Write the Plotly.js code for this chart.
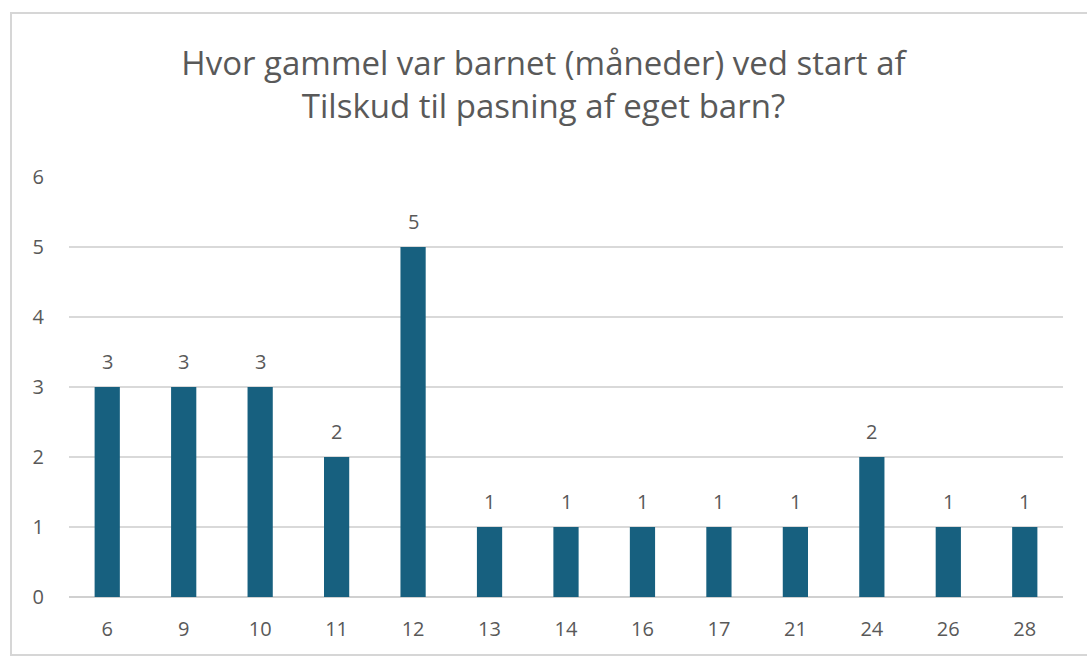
<!DOCTYPE html>
<html><head><meta charset="utf-8">
<script src="https://cdn.plot.ly/plotly-3.0.1.min.js"></script>
<style>
body{margin:0;padding:0;background:#fff;}
#wrap{position:relative;width:1087px;height:659px;}
#chart{width:1087px;height:659px;}
#border{position:absolute;left:10px;top:12px;width:1090px;height:644px;border:2px solid #d6d6d6;box-sizing:border-box;pointer-events:none;}
</style></head>
<body>
<div id="wrap"><div id="chart"></div><div id="border"></div></div>
<script>
const categories = ["6","9","10","11","12","13","14","16","17","21","24","26","28"];
const counts = [3,3,3,2,5,1,1,1,1,1,2,1,1];
const titleText = "Hvor gammel var barnet (måneder) ved start af<br>Tilskud til pasning af eget barn?";

const font = "'Open Sans', Lato, 'DejaVu Sans', sans-serif";
const grey = "#595959";

const trace = {
  type: "bar",
  x: categories,
  y: counts,
  marker: {color: "#17607f"},
  hoverinfo: "x+y"
};

const annotations = categories.map((c, i) => ({
  x: i, y: counts[i], xref: "x", yref: "y",
  text: String(counts[i]), showarrow: false,
  yanchor: "bottom", yshift: 10,
  font: {family: font, size: 20, color: grey}
}));

const layout = {
  width: 1087, height: 659,
  margin: {l: 69, r: 24, t: 177, b: 62},
  paper_bgcolor: "#fff", plot_bgcolor: "#fff",
  bargap: 0.67,
  showlegend: false,
  title: {text: titleText, x: 0.5, xanchor: "center", yref: "container", y: 0.886, yanchor: "middle",
          font: {family: font, size: 33, color: grey}},
  xaxis: {type: "category", range: [-0.5, 12.5], showgrid: false, zeroline: false, showline: false,
          tickfont: {family: font, size: 20, color: grey}, ticks: "", ticklabelstandoff: 18},
  yaxis: {range: [0, 6], dtick: 1, showgrid: true, gridcolor: "#d9d9d9", gridwidth: 1.5,
          zeroline: true, zerolinecolor: "#d0d0d0", zerolinewidth: 2, showline: false,
          tickfont: {family: font, size: 20, color: grey}, ticks: "", ticklabelstandoff: 24},
  annotations: annotations
};

Plotly.newPlot("chart", [trace], layout, {displayModeBar: false, staticPlot: true});
</script>
</body></html>
